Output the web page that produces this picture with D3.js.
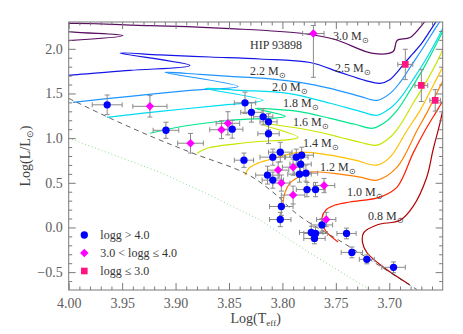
<!DOCTYPE html>
<html>
<head>
<meta charset="utf-8">
<script src="https://cdn.jsdelivr.net/npm/d3@7"></script>
<style>
body { margin: 0; background: #fff; }
svg text { font-family: "Liberation Serif", "Times New Roman", serif; }
</style>
</head>
<body>
<svg id="chart" width="463" height="334"></svg>
<script>
// evolutionary tracks, [logTeff, logL]
var track30 = [[4.0175,2.081],[3.9492,2.148],[4.0175,2.226],[4.0175,2.260],[3.9239,2.260],[3.849,2.226],[3.7807,2.171],[3.7507,2.104],[3.7152,1.948],[3.6964,1.970],[3.6927,2.093],[3.6805,2.126],[3.6683,2.282],[3.6617,2.383]];
var track25 = [[4.0175,1.680],[4.0007,1.702],[3.9426,1.758],[3.8865,1.814],[3.952,1.953],[3.9145,1.931],[3.8677,1.908],[3.8209,1.886],[3.7741,1.847],[3.7461,1.736],[3.7227,1.646],[3.7086,1.613],[3.6992,1.657],[3.6927,1.736],[3.6852,1.847],[3.6777,1.948],[3.6692,2.070],[3.6617,2.204],[3.6543,2.338]];
var track22 = [[3.996,1.401],[3.9426,1.468],[3.8865,1.535],[3.8415,1.579],[3.9099,1.736],[3.8771,1.713],[3.849,1.691],[3.8162,1.669],[3.7835,1.624],[3.7554,1.557],[3.7273,1.468],[3.7114,1.423],[3.6992,1.501],[3.6899,1.624],[3.6787,1.825],[3.6664,2.048],[3.6552,2.260],[3.6496,2.360]];
var track20 = [[3.9642,1.233],[3.9145,1.300],[3.8584,1.367],[3.8181,1.423],[3.8724,1.557],[3.8397,1.535],[3.7947,1.501],[3.7554,1.390],[3.7273,1.300],[3.7114,1.256],[3.6992,1.334],[3.6899,1.445],[3.6758,1.691],[3.6636,1.925],[3.6524,2.171],[3.6496,2.238]];
var track18 = [[3.9239,1.055],[3.893,1.133],[3.849,1.200],[3.7975,1.244],[3.8256,1.334],[3.8068,1.323],[3.7854,1.300],[3.7554,1.222],[3.732,1.155],[3.7152,1.111],[3.7039,1.178],[3.6927,1.311],[3.6805,1.535],[3.6664,1.814],[3.6543,2.093],[3.6496,2.204]];
var track16 = [[3.8799,0.832],[3.8705,0.887],[3.8303,0.954],[3.7854,1.010],[3.819,1.155],[3.7975,1.133],[3.7741,1.088],[3.7461,1.010],[3.7273,0.954],[3.7114,0.921],[3.6992,1.010],[3.6899,1.144],[3.6777,1.390],[3.6636,1.669],[3.6524,1.925],[3.6496,2.003]];
var track14 = [[3.835,0.586],[3.8312,0.664],[3.8228,0.720],[3.8068,0.776],[3.7835,0.843],[3.7554,0.809],[3.732,0.753],[3.7114,0.698],[3.6992,0.787],[3.6833,1.088],[3.6711,1.311],[3.6589,1.590],[3.6496,1.802]];
var track12 = [[3.7994,0.274],[3.7975,0.396],[3.7929,0.497],[3.7854,0.563],[3.7741,0.620],[3.7461,0.597],[3.7273,0.563],[3.7114,0.530],[3.6927,0.675],[3.6739,1.088],[3.6636,1.311],[3.6543,1.535],[3.6496,1.646]];
var track10 = [[3.7479,-0.162],[3.7601,-0.028],[3.763,0.106],[3.7592,0.196],[3.7507,0.251],[3.7367,0.285],[3.7086,0.340],[3.6927,0.452],[3.6777,0.832],[3.6664,1.088],[3.6552,1.311],[3.6496,1.423]];
var track08 = [[3.681,-0.64],[3.706,-0.44],[3.721,-0.28],[3.725,-0.17],[3.724,-0.06],[3.711,0.03],[3.690,0.08],[3.678,0.23],[3.665,0.56],[3.659,0.87],[3.6525,1.17],[3.650,1.31]];

var trackMasses = ["3.0", "2.5", "2.2", "2.0", "1.8", "1.6", "1.4", "1.2", "1.0", "0.8"];
var trackColors = ["#5b0f63", "#1515e6", "#1e96ff", "#00dcf0", "#00e68c", "#c8e600", "#ffc000", "#ff7f00", "#ff1e00", "#b40000"];
// where each mass label sits (logTeff of left edge, logL of baseline)
var labelTeff = [3.7526, 3.7507, 3.8303, 3.8097, 3.7994, 3.7901, 3.7807, 3.7648, 3.7395, 3.7199];
var labelLum  = [2.104, 1.736, 1.702, 1.523, 1.345, 1.133, 0.899, 0.631, 0.352, 0.084];

// ZAMS (dashed) and the dotted line
var zams = [[4.000,1.445],[3.961,1.222],[3.921,1.010],[3.884,0.832],[3.833,0.597],[3.809,0.396],[3.784,0.128],[3.743,-0.173],[3.709,-0.430],[3.674,-0.697]];
var dotted = [[4.000,1.000],[3.915,0.620],[3.868,0.363],[3.821,0.084],[3.776,-0.273],[3.718,-0.697]];

// stars: [logTeff, logL, err logTeff, err logL down, err logL up]
var dwarfs = [
  [3.964,1.373,0.014,0.11,0.11],[3.909,1.088,0.012,0.09,0.09],[3.847,1.100,0.010,0.10,0.10],
  [3.835,1.395,0.010,0.12,0.12],[3.829,1.289,0.010,0.11,0.11],[3.818,1.239,0.009,0.09,0.09],
  [3.813,1.183,0.008,0.09,0.09],[3.813,1.049,0.010,0.11,0.11],[3.836,0.753,0.009,0.08,0.08],
  [3.802,0.843,0.011,0.11,0.11],[3.809,0.787,0.012,0.09,0.09],[3.787,0.787,0.011,0.09,0.09],
  [3.782,0.809,0.011,0.09,0.09],[3.783,0.709,0.010,0.09,0.09],[3.814,0.586,0.011,0.10,0.10],
  [3.809,0.530,0.010,0.09,0.09],[3.784,0.597,0.011,0.09,0.09],[3.778,0.608,0.011,0.09,0.09],
  [3.777,0.424,0.010,0.08,0.08],[3.769,0.424,0.009,0.08,0.08],[3.801,0.235,0.011,0.10,0.10],
  [3.802,0.089,0.010,0.08,0.08],[3.763,0.028,0.010,0.07,0.07],[3.773,-0.056,0.011,0.07,0.07],
  [3.769,-0.067,0.011,0.07,0.07],[3.770,-0.123,0.010,0.06,0.06],[3.740,-0.067,0.009,0.06,0.06],
  [3.735,-0.279,0.010,0.06,0.06],[3.721,-0.357,0.007,0.05,0.05],[3.696,-0.446,0.011,0.06,0.06]
];
var subgiants = [
  [3.924,1.356,0.016,0.12,0.12],[3.886,0.943,0.012,0.11,0.11],[3.851,1.166,0.011,0.13,0.13],
  [3.857,1.094,0.011,0.10,0.10],[3.804,0.642,0.010,0.09,0.09],[3.790,0.675,0.010,0.09,0.09],
  [3.801,0.497,0.008,0.09,0.09],[3.790,0.363,0.011,0.10,0.10],[3.761,0.469,0.010,0.08,0.08],
  [3.759,0.089,0.009,0.08,0.08],[3.771,2.171,0.010,0.49,0.09]
];
var giants = [
  [3.685,1.825,0.007,0.17,0.17],[3.670,1.590,0.006,0.18,0.18],[3.657,1.423,0.005,0.12,0.12]
];
var hipTeff = 3.8303, hipLum = 2.003;

var xTicks = [4.00, 3.95, 3.90, 3.85, 3.80, 3.75, 3.70];
var yTicks = [-0.5, 0.0, 0.5, 1.0, 1.5, 2.0];

var legendLabels = ["logg > 4.0", "3.0 < logg \u2264 4.0", "logg \u2264 3.0"];

var pLeft = 68.7, pRight = 442.7, pTop = 22, pBottom = 290;

var x = d3.scaleLinear().domain([4.00, 3.65]).range([pLeft, pRight]);
var y = d3.scaleLinear().domain([-0.7, 2.3]).range([pBottom, pTop]);

var svg = d3.select("#chart");
var axisColor = "#7a7a7a";

svg.append("defs").append("clipPath").attr("id", "plotclip")
    .append("rect")
    .attr("x", pLeft).attr("y", pTop)
    .attr("width", pRight - pLeft).attr("height", pBottom - pTop);

var plot = svg.append("g").attr("clip-path", "url(#plotclip)");

var line = d3.line()
    .x(function(d){ return x(d[0]); })
    .y(function(d){ return y(d[1]); })
    .curve(d3.curveCatmullRom.alpha(0.5));

var tracks = [track30, track25, track22, track20, track18, track16, track14, track12, track10, track08];

plot.selectAll("path.track")
    .data(tracks)
    .enter()
    .append("path")
    .attr("class", "track")
    .attr("d", line)
    .attr("fill", "none")
    .attr("stroke", function(d, i){ return trackColors[i]; })
    .attr("stroke-width", 1.2);

plot.append("path")
    .attr("d", line(zams))
    .attr("fill", "none")
    .attr("stroke", "#3a3a3a")
    .attr("stroke-width", 0.8)
    .attr("stroke-dasharray", "5,4");

plot.append("path")
    .attr("d", d3.line().x(function(d){ return x(d[0]); }).y(function(d){ return y(d[1]); })(dotted))
    .attr("fill", "none")
    .attr("stroke", "#86dc86")
    .attr("stroke-width", 1)
    .attr("stroke-dasharray", "1,2.5");

// mass labels
var labels = svg.append("g")
    .selectAll("text")
    .data(trackMasses)
    .enter()
    .append("text")
    .attr("x", function(d, i){ return x(labelTeff[i]); })
    .attr("y", function(d, i){ return y(labelLum[i]); })
    .attr("font-size", 12)
    .attr("fill", "#333");
labels.append("tspan").text(function(d){ return d + " M"; });
labels.append("tspan").attr("font-size", 8).attr("dy", 3).text("\u2299");

svg.append("text")
    .attr("x", x(hipTeff)).attr("y", y(hipLum))
    .attr("font-size", 12)
    .attr("fill", "#333")
    .text("HIP 93898");

// error bars
var allStars = dwarfs.concat(subgiants).concat(giants);
var cap = 2.5;
var err = plot.append("g")
    .attr("stroke", "#8a8a8a")
    .attr("stroke-width", 1)
    .selectAll("g")
    .data(allStars)
    .enter()
    .append("g");

err.append("line")
    .attr("x1", function(d){ return x(d[0] + d[2]); })
    .attr("x2", function(d){ return x(d[0] - d[2]); })
    .attr("y1", function(d){ return y(d[1]); })
    .attr("y2", function(d){ return y(d[1]); });
err.append("line")
    .attr("x1", function(d){ return x(d[0]); })
    .attr("x2", function(d){ return x(d[0]); })
    .attr("y1", function(d){ return y(d[1] - d[3]); })
    .attr("y2", function(d){ return y(d[1] + d[4]); });
// caps
[1, -1].forEach(function(s){
    err.append("line")
        .attr("x1", function(d){ return x(d[0] + s * d[2]); })
        .attr("x2", function(d){ return x(d[0] + s * d[2]); })
        .attr("y1", function(d){ return y(d[1]) - cap; })
        .attr("y2", function(d){ return y(d[1]) + cap; });
});
err.append("line")
    .attr("x1", function(d){ return x(d[0]) - cap; })
    .attr("x2", function(d){ return x(d[0]) + cap; })
    .attr("y1", function(d){ return y(d[1] - d[3]); })
    .attr("y2", function(d){ return y(d[1] - d[3]); });
err.append("line")
    .attr("x1", function(d){ return x(d[0]) - cap; })
    .attr("x2", function(d){ return x(d[0]) + cap; })
    .attr("y1", function(d){ return y(d[1] + d[4]); })
    .attr("y2", function(d){ return y(d[1] + d[4]); });

// markers
var circleSym = d3.symbol().type(d3.symbolCircle).size(42);
var diamondSym = d3.symbol().type(d3.symbolSquare).size(36);
var squareSym = d3.symbol().type(d3.symbolSquare).size(44);

plot.selectAll("path.dwarf")
    .data(dwarfs).enter().append("path")
    .attr("class", "dwarf")
    .attr("d", circleSym)
    .attr("fill", "#0000ff")
    .attr("transform", function(d){ return "translate(" + x(d[0]) + "," + y(d[1]) + ")"; });

plot.selectAll("path.sub")
    .data(subgiants).enter().append("path")
    .attr("class", "sub")
    .attr("d", diamondSym)
    .attr("fill", "#ff00ff")
    .attr("transform", function(d){ return "translate(" + x(d[0]) + "," + y(d[1]) + ") rotate(45)"; });

plot.selectAll("path.giant")
    .data(giants).enter().append("path")
    .attr("class", "giant")
    .attr("d", squareSym)
    .attr("fill", "#ff1480")
    .attr("transform", function(d){ return "translate(" + x(d[0]) + "," + y(d[1]) + ")"; });

// axes, ticks inward on all four sides
var xMinor = d3.range(3.66, 3.995, 0.01).filter(function(v){
    return Math.abs(v * 20 - Math.round(v * 20)) > 0.01;
});
var yMinor = d3.range(-0.6, 2.3, 0.1).filter(function(v){
    return Math.abs(v * 2 - Math.round(v * 2)) > 0.01;
});

function styleAxis(g) {
    g.select(".domain").remove();
    g.selectAll("line").attr("stroke", axisColor);
    g.selectAll("text")
        .attr("fill", "#5e5e5e")
        .attr("font-size", 14)
        .attr("font-family", "Liberation Serif, serif");
}

svg.append("g").attr("transform", "translate(0," + pBottom + ")")
    .call(d3.axisBottom(x).tickValues(xTicks).tickSize(-7).tickPadding(8).tickFormat(d3.format(".2f")))
    .call(styleAxis);
svg.append("g").attr("transform", "translate(0," + pBottom + ")")
    .call(d3.axisBottom(x).tickValues(xMinor).tickSize(-3.5).tickFormat(""))
    .call(styleAxis);
svg.append("g").attr("transform", "translate(0," + pTop + ")")
    .call(d3.axisTop(x).tickValues(xTicks).tickSize(-7).tickFormat(""))
    .call(styleAxis);
svg.append("g").attr("transform", "translate(0," + pTop + ")")
    .call(d3.axisTop(x).tickValues(xMinor).tickSize(-3.5).tickFormat(""))
    .call(styleAxis);

svg.append("g").attr("transform", "translate(" + pLeft + ",0)")
    .call(d3.axisLeft(y).tickValues(yTicks).tickSize(-7).tickPadding(6).tickFormat(d3.format(".1f")))
    .call(styleAxis);
svg.append("g").attr("transform", "translate(" + pLeft + ",0)")
    .call(d3.axisLeft(y).tickValues(yMinor).tickSize(-3.5).tickFormat(""))
    .call(styleAxis);
svg.append("g").attr("transform", "translate(" + pRight + ",0)")
    .call(d3.axisRight(y).tickValues(yTicks).tickSize(-7).tickFormat(""))
    .call(styleAxis);
svg.append("g").attr("transform", "translate(" + pRight + ",0)")
    .call(d3.axisRight(y).tickValues(yMinor).tickSize(-3.5).tickFormat(""))
    .call(styleAxis);

svg.append("rect")
    .attr("x", pLeft).attr("y", pTop)
    .attr("width", pRight - pLeft).attr("height", pBottom - pTop)
    .attr("fill", "none")
    .attr("stroke", axisColor)
    .attr("stroke-width", 1);

// axis titles
var xt = svg.append("text")
    .attr("x", (pLeft + pRight) / 2).attr("y", 323)
    .attr("text-anchor", "middle")
    .attr("font-size", 14)
    .attr("fill", "#444");
xt.append("tspan").text("Log(T");
xt.append("tspan").attr("font-size", 9).attr("dy", 3).text("eff");
xt.append("tspan").attr("dy", -3).text(")");

var yt = svg.append("text")
    .attr("transform", "translate(30," + ((pTop + pBottom) / 2) + ") rotate(-90)")
    .attr("text-anchor", "middle")
    .attr("font-size", 14)
    .attr("fill", "#444");
yt.append("tspan").text("Log(L/L");
yt.append("tspan").attr("font-size", 9).attr("dy", 3).text("\u2299");
yt.append("tspan").attr("dy", -3).text(")");

// legend
var legend = svg.append("g").attr("transform", "translate(84.3,235)");
var legendSyms = [circleSym, diamondSym, squareSym];
var legendColors = ["#0000ff", "#ff00ff", "#ff1480"];
legendLabels.forEach(function(t, i){
    legend.append("path")
        .attr("d", legendSyms[i])
        .attr("fill", legendColors[i])
        .attr("transform", "translate(0," + (i * 18) + ")" + (i == 1 ? " rotate(45)" : ""));
    legend.append("text")
        .attr("x", 16).attr("y", i * 18 + 4)
        .attr("font-size", 12)
        .attr("fill", "#333")
        .text(t);
});
</script>
</body>
</html>
